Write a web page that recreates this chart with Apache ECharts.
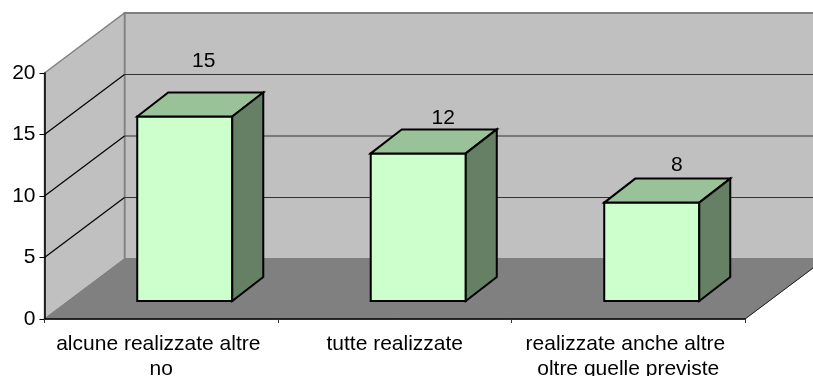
<!DOCTYPE html>
<html>
<head>
<meta charset="utf-8">
<style>html,body{margin:0;padding:0;background:#fff}#c{width:813px;height:376px}</style>
<script src="https://cdn.jsdelivr.net/npm/echarts@6/dist/echarts.min.js"></script>
</head>
<body>
<div id="c"></div>
<script>
// Survey results: how many of the planned items were carried out
const categories = ['alcune realizzate altre no', 'tutte realizzate', 'realizzate anche altre oltre quelle previste'];
const counts = [15, 12, 8];
const yTicks = [0, 5, 10, 15, 20];

// Oblique projection of the 3D box
const WALL_DEPTH = [80, -60];
const BAR_INSET = [23.5, -18];
const BAR_DEPTH = [31, -24];
const BAR_WIDTH_RATIO = 0.407;
// Hand-placed offsets of the value labels from each bar's front-top centre
const labelShift = [[19, -55], [25, -35], [25, -37]];

const FAMILY = '"Liberation Sans", Arial, sans-serif';

function poly(points, fill, stroke, lineWidth) {
  return {
    type: 'polygon',
    shape: { points: points },
    style: { fill: fill, stroke: stroke, lineWidth: lineWidth, lineJoin: 'miter' }
  };
}
function seg(a, b, stroke, lineWidth) {
  return {
    type: 'line',
    shape: { x1: a[0], y1: a[1], x2: b[0], y2: b[1] },
    style: { stroke: stroke, lineWidth: lineWidth }
  };
}
const back = (p, d) => [p[0] + d[0], p[1] + d[1]];

function renderWalls(params, api) {
  const r = params.coordSys;
  const l = r.x, rgt = r.x + r.width, t = r.y, b = r.y + r.height;
  const lt = [l, t], lb = [l, b], rb = [rgt, b], rt = [rgt, t];
  const kids = [
    poly([back(lt, WALL_DEPTH), back(rt, WALL_DEPTH), back(rb, WALL_DEPTH), back(lb, WALL_DEPTH)], '#c0c0c0', '#808080', 2),
    poly([lt, back(lt, WALL_DEPTH), back(lb, WALL_DEPTH), lb], '#c0c0c0', '#808080', 1.5),
    poly([lb, back(lb, WALL_DEPTH), back(rb, WALL_DEPTH), rb], '#808080', '#808080', 1)
  ];
  yTicks.slice(1, -1).forEach(v => {
    const y = api.coord([0, v])[1];
    const front = [l, y], rear = back(front, WALL_DEPTH);
    kids.push(seg(front, rear, '#000', 1.2));
    kids.push(seg(rear, [rgt + WALL_DEPTH[0], rear[1]], '#333', 1.2));
  });
  kids.push(seg(rb, back(rb, WALL_DEPTH), '#222', 1));
  return { type: 'group', children: kids };
}

function renderBar(params, api) {
  const i = api.value(0), v = api.value(1);
  const w = api.size([1, 0])[0] * BAR_WIDTH_RATIO;
  const top = api.coord([i, v]), base = api.coord([i, 0]);
  const x0 = top[0] + BAR_INSET[0] - w / 2, x1 = x0 + w;
  const yTop = top[1] + BAR_INSET[1], yBase = base[1] + BAR_INSET[1];
  const tl = [x0, yTop], tr = [x1, yTop], bl = [x0, yBase], br = [x1, yBase];
  const shift = labelShift[i];
  return {
    type: 'group',
    children: [
      poly([tl, tr, br, bl], '#ccffcc', '#000', 2),
      poly([tl, back(tl, BAR_DEPTH), back(tr, BAR_DEPTH), tr], '#99c299', '#000', 2),
      poly([tr, back(tr, BAR_DEPTH), back(br, BAR_DEPTH), br], '#668066', '#000', 2),
      {
        type: 'text',
        style: {
          text: String(v),
          x: top[0] + BAR_INSET[0] + shift[0],
          y: yTop + shift[1],
          font: '21px ' + FAMILY,
          fill: '#000',
          align: 'center',
          verticalAlign: 'middle'
        }
      }
    ]
  };
}

const chart = echarts.init(document.getElementById('c'), null, { renderer: 'canvas' });
chart.setOption({
  animation: false,
  backgroundColor: '#fff',
  grid: { left: 44.5, top: 73, width: 700.5, height: 246, containLabel: false, outerBoundsMode: 'none' },
  xAxis: {
    type: 'category',
    data: categories,
    z: 5,
    axisLine: { show: true, lineStyle: { color: '#000', width: 1.5 } },
    axisTick: { show: true, alignWithLabel: false, length: 4, lineStyle: { color: '#333', width: 1 } },
    axisLabel: {
      interval: 0,
      fontFamily: FAMILY,
      fontSize: 21,
      color: '#000',
      margin: 13,
      lineHeight: 25,
      width: 222,
      overflow: 'break',
      align: 'center',
      hideOverlap: false
    },
    splitLine: { show: false }
  },
  yAxis: {
    type: 'value',
    min: 0,
    max: 20,
    interval: 5,
    z: 5,
    axisLine: { show: true, lineStyle: { color: '#000', width: 1.5 } },
    axisTick: { show: true, length: 5, lineStyle: { color: '#000', width: 1 } },
    axisLabel: {
      fontFamily: FAMILY,
      fontSize: 21,
      color: '#000',
      margin: 9
    },
    splitLine: { show: false }
  },
  series: [
    { type: 'custom', silent: true, clip: false, z: 1, data: [[0, 0]], renderItem: renderWalls },
    { type: 'custom', silent: true, clip: false, z: 6, data: counts.map((v, i) => [i, v]), renderItem: renderBar }
  ]
});
</script>
</body>
</html>
